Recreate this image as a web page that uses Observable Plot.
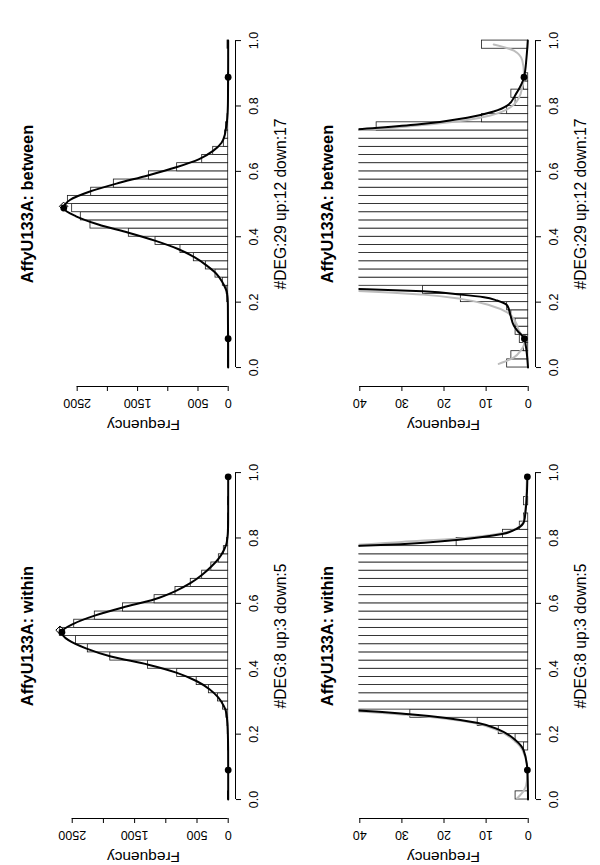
<!DOCTYPE html>
<html><head><meta charset="utf-8">
<script src="https://cdn.jsdelivr.net/npm/d3@7"></script>
<script src="https://cdn.jsdelivr.net/npm/@observablehq/plot@0.6"></script>
<style>
body{margin:0;background:#fff;}
#fig{position:relative;width:600px;height:865px;font-family:"Liberation Sans",Arial,Helvetica,sans-serif;}
#fig svg{position:absolute;}
</style></head><body><div id="fig"></div>
<script>
// histogram bins (start of each 0.025-wide bin)
const binStart = [0,0.025,0.05,0.075,0.1,0.125,0.15,0.175,0.2,0.225,0.25,0.275,0.3,0.325,0.35,0.375,0.4,0.425,0.45,0.475,0.5,0.525,0.55,0.575,0.6,0.625,0.65,0.675,0.7,0.725,0.75,0.775,0.8,0.825,0.85,0.875,0.9,0.925,0.95,0.975];
const binWidth = 0.025;

const betweenCounts = [5,4,1,2,3,3,4,5,16,25, 89,210,370,569,790,1203,1645,2280,2440,2583, 2654,2268,1893,1313,845,430,248,72,50,36, 11,5,3,4,1,1,0,0,0,11];
const withinCounts  = [3,0,0,0,0,0,1,3,7,12, 28,83,163,310,505,817,1285,1890,2250,2440, 2699,2468,2138,1686,1180,845,600,417,270,150, 70,17,6,2,1,0,1,0,0,0];

// fitted curve (black)
const betweenCurveV = [0,0.05,0.088,0.113,0.128,0.159,0.19,0.205,0.215,0.223,0.233,0.241,0.2625,0.2875,0.3125,0.3375,0.3625,0.3875,0.4125,0.4375,0.4625,0.488,0.5125,0.5375,0.5625,0.5875,0.6125,0.6375,0.6625,0.6875,0.7125,0.727,0.743,0.764,0.783,0.801,0.837,0.888,0.949,1.0];
const betweenCurveF = [0.05,0.4,0.9,2.6,3.4,4.2,5,7.4,10.5,16,25,42,100,200,360,560,830,1200,1650,2150,2520,2722,2620,2300,1850,1330,860,480,250,110,55,42,26.4,14.5,8.2,5,2.9,1.0,0.4,0.1];
const withinCurveV = [0,0.05,0.09,0.151,0.181,0.214,0.234,0.261,0.273,0.2875,0.3125,0.3375,0.3625,0.3875,0.4125,0.4375,0.4625,0.4875,0.512,0.5375,0.5625,0.5875,0.6125,0.6375,0.6625,0.6875,0.7125,0.7375,0.7625,0.775,0.781,0.794,0.812,0.829,0.85,0.886,0.94,0.987];
const withinCurveF = [0.05,0.1,0.2,1.1,3,7,11.9,28.1,41.6,75,160,300,510,820,1280,1880,2280,2560,2671,2480,2140,1690,1180,845,600,417,270,150,70,42,30.3,17,6.2,2.6,1,0.6,0.3,0.2];

// second fit (grey), tails only
const betweenGrayLowV = [0.011,0.031,0.052,0.072,0.09,0.113,0.139,0.169,0.19,0.21,0.223,0.235,0.245];
const betweenGrayLowF = [7,3.4,1.8,1.0,1.2,2.2,3,5,9,16,25,42,70];
const betweenGrayUpV  = [0.71,0.725,0.74,0.757,0.771,0.796,0.837,0.898,0.939,0.969,0.988];
const betweenGrayUpF  = [70,42,26.4,14.5,9,4.2,1.8,1.0,1.4,3.4,8.2];
const withinGrayLowV  = [0.004,0.028,0.057,0.09,0.15,0.18,0.213,0.233,0.259,0.271,0.28];
const withinGrayLowF  = [2.6,1.0,0.3,0.2,1.3,3.3,7.5,12.5,29,43,60];
const withinGrayUpV   = [0.77,0.778,0.788,0.798,0.815,0.832,0.855,0.9,0.95,0.987];
const withinGrayUpF   = [60,42,30,17,6,2.4,1.0,0.6,0.4,0.3];

// marked points
const betweenDotsV = [0.088,0.888,0.488];
const betweenDotsF = [0.9,1.0,2722];
const betweenDiamond = [[0.493,2725]];
const withinDotsV = [0.09,0.987,0.512];
const withinDotsF = [0.2,0.2,2665];
const withinDiamond = [[0.518,2695]];

const valueTicks = [0,0.2,0.4,0.6,0.8,1.0];
const fullTicks = [0,500,1000,1500,2000,2500];
const fullLabels = [0,500,1500,2500];
const zoomTicks = [0,10,20,30,40];

const titles = {between:"AffyU133A: between", within:"AffyU133A: within"};
const xlabs = {between:"#DEG:29 up:12 down:17", within:"#DEG:8 up:3 down:5"};

const FONT = '"Liberation Sans", Arial, Helvetica, sans-serif';

function panel({left, top, group, zoom, xDomain, marginLeft}) {
  const counts = group === "between" ? betweenCounts : withinCounts;
  const cV = group === "between" ? betweenCurveV : withinCurveV;
  const cF = group === "between" ? betweenCurveF : withinCurveF;
  const bars = binStart.map((s, i) => ({lo: s, hi: s + binWidth, n: counts[i]}));
  const curve = cV.map((v, i) => ({v, f: cF[i]}));
  const gray = [];
  const gl = group === "between" ? [betweenGrayLowV, betweenGrayLowF, betweenGrayUpV, betweenGrayUpF]
                                 : [withinGrayLowV, withinGrayLowF, withinGrayUpV, withinGrayUpF];
  gl[0].forEach((v, i) => gray.push({v, f: gl[1][i], part: "low"}));
  gl[2].forEach((v, i) => gray.push({v, f: gl[3][i], part: "up"}));
  const dV = group === "between" ? betweenDotsV : withinDotsV;
  const dF = group === "between" ? betweenDotsF : withinDotsF;
  const dots = dV.map((v, i) => ({v, f: dF[i]}));
  const diamond = (group === "between" ? betweenDiamond : withinDiamond).map(([v, f]) => ({v, f}));
  const ticks = zoom ? zoomTicks : fullTicks;
  const labels = zoom ? zoomTicks : fullLabels;
  const clip = zoom;
  const yBottom = -0.058;
  const marks = [
    Plot.rectX(bars, {y1: "lo", y2: "hi", x1: 0, x2: "n", fill: "white", stroke: "#1a1a1a", strokeWidth: 0.8, clip}),
  ];
  if (zoom) marks.push(Plot.line(gray, {x: "f", y: "v", z: "part", stroke: "#bdbdbd", strokeWidth: 2, curve: "monotone-y", clip}));
  marks.push(
    Plot.line(curve, {x: "f", y: "v", stroke: "black", strokeWidth: 2, curve: "monotone-y", clip}),
    Plot.dot(diamond, {x: "f", y: "v", symbol: "diamond2", r: 3.8, fill: "none", stroke: "black", strokeWidth: 1, clip}),
    Plot.dot(dots, {x: "f", y: "v", r: 3.4, fill: "black", stroke: "none", clip}),
    Plot.ruleX([xDomain[1]], {y1: 0, y2: 1, stroke: "black", strokeWidth: 1}),
    Plot.ruleY([yBottom], {x1: 0, x2: ticks[ticks.length - 1], stroke: "black", strokeWidth: 1}),
    Plot.axisY({anchor: "right", ticks: valueTicks, tickSize: 5, tickPadding: 13, tickRotate: -90,
      textAnchor: "middle", lineAnchor: "middle", tickFormat: d3.format(".1f"), fontSize: 12.5, label: null, stroke: "black"}),
    Plot.axisX({anchor: "bottom", ticks, tickSize: 5, tickPadding: 11, tickRotate: 180,
      textAnchor: "middle", lineAnchor: "middle", tickFormat: d => labels.includes(d) ? String(d) : null, fontSize: 12.5, label: null, stroke: "black"}),
    Plot.text([titles[group]], {text: d => d, y: () => 0.5, frameAnchor: "left", dx: 27 - marginLeft, rotate: -90,
      textAnchor: "middle", lineAnchor: "middle", fontWeight: "bold", fontSize: 16.4, fill: "black"}),
    Plot.text([xlabs[group]], {text: d => d, y: () => 0.5, frameAnchor: "right", dx: 45, rotate: -90,
      textAnchor: "middle", lineAnchor: "middle", fontSize: 15.6, fill: "black"}),
    Plot.text(["Frequency"], {text: d => d, frameAnchor: "bottom-left", dx: 143 - marginLeft, dy: 38, rotate: 180,
      textAnchor: "middle", lineAnchor: "middle", fontSize: 15.5, fill: "black"})
  );
  const svg = Plot.plot({
    width: 300, height: 433,
    marginLeft, marginRight: 65, marginTop: 27, marginBottom: 47,
    x: {domain: xDomain},
    y: {domain: [yBottom, 1.04]},
    style: {fontFamily: FONT, background: "transparent", color: "black", overflow: "visible"},
    marks
  });
  svg.style.left = left + "px";
  svg.style.top = top + "px";
  document.getElementById("fig").appendChild(svg);
}

panel({left: 0,   top: 0,   group: "between", zoom: false, xDomain: [2743, -121], marginLeft: 62});
panel({left: 300, top: 0,   group: "between", zoom: true,  xDomain: [40.19, -1.73], marginLeft: 58.5});
panel({left: 0,   top: 432, group: "within",  zoom: false, xDomain: [2768, -117], marginLeft: 55});
panel({left: 300, top: 432, group: "within",  zoom: true,  xDomain: [40.19, -1.73], marginLeft: 58.5});
</script>
</body></html>
